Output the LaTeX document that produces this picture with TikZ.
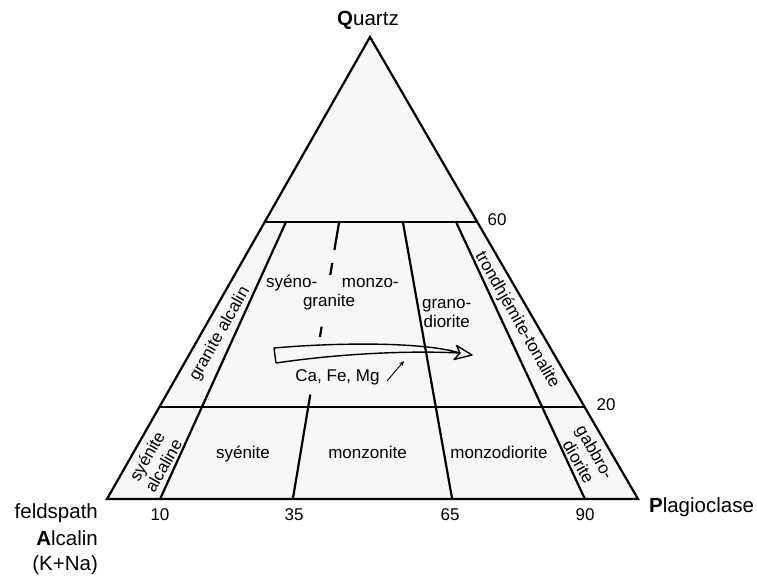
\documentclass[tikz,border=0pt]{standalone}
\usepackage{fontspec}
\setmainfont{Liberation Sans}
\usetikzlibrary{calc,arrows.meta}
\begin{document}
\begin{tikzpicture}[x=1pt,y=-1pt,line width=2.2pt,
  lbl/.style={font=\fontsize{17}{19}\selectfont, inner sep=0pt, anchor=base},
  rlbl/.style={font=\fontsize{17}{19}\selectfont, inner sep=0pt, align=center},
  big/.style={font=\fontsize{20.5}{24}\selectfont, inner sep=0pt},
  flow/.style={line width=1.4pt, line join=round}]
\useasboundingbox (0,0) rectangle (757,576);
% corners
\coordinate (A) at (107,499);
\coordinate (P) at (638,499);
\coordinate (Q) at (370,37);
\fill[black!3] (A) -- (P) -- (Q) -- cycle;
% base points and tops at Q=60
\coordinate (b10) at ($(A)!0.10!(P)$);
\coordinate (b35) at ($(A)!0.35!(P)$);
\coordinate (b65) at ($(A)!0.65!(P)$);
\coordinate (b90) at ($(A)!0.90!(P)$);
\coordinate (t10) at ($(b10)!0.6!(Q)$);
\coordinate (t35) at ($(b35)!0.6!(Q)$);
\coordinate (t65) at ($(b65)!0.6!(Q)$);
\coordinate (t90) at ($(b90)!0.6!(Q)$);
\coordinate (L60) at ($(A)!0.6!(Q)$);
\coordinate (R60) at ($(P)!0.6!(Q)$);
\coordinate (L20) at ($(A)!0.2!(Q)$);
\coordinate (R20) at ($(P)!0.2!(Q)$);
% 35 line pieces
\coordinate (s1) at ($(b35)!0.226!(Q)$);
\coordinate (s2) at ($(b35)!0.351!(Q)$);
\coordinate (s3) at ($(b35)!0.373!(Q)$);
\coordinate (s4) at ($(b35)!0.485!(Q)$);
\coordinate (s5) at ($(b35)!0.511!(Q)$);
\coordinate (s6) at ($(b35)!0.539!(Q)$);
\draw (L60) -- (R60);
\draw (L20) -- (R20);
\draw (b10) -- (t10);
\draw (b65) -- (t65);
\draw (b90) -- (t90);
\draw (b35) -- (s1) (s2) -- (s3) (s4) -- (s5) (s6) -- (t35);
\draw[line join=miter] (A) -- (P) -- (Q) -- cycle;
% big hollow arrow
\coordinate (w1) at (274,348);
\coordinate (w2) at (276,363);
\coordinate (wt) at (460,353);
\coordinate (h1) at (456.5,345.5);
\coordinate (h2) at (472,355);
\coordinate (h3) at (454,359.5);
\draw[flow] (w2) -- (w1) .. controls (330,343) and (420,341) .. (wt)
  .. controls (400,350) and (330,355) .. (w2);
\draw[flow] (wt) -- (h1) -- (h2) -- (h3) -- cycle;
% small arrow
\coordinate (k1) at (387,381);
\coordinate (k2) at (404,361);
\draw[-{Stealth[length=5pt,width=4pt]}, line width=0.9pt] (k1) -- (k2);
% outer labels
\node[big, anchor=base] (quartz) at (368,25) {\textbf{Q}uartz};
\node[big, anchor=base west] (plag) at (648,512) {\textbf{P}lagioclase};
\node[big, anchor=base east] (feld1) at (99,518) {feldspath};
\node[big, anchor=base east] (feld2) at (99,545) {\textbf{A}lcalin};
\node[big, anchor=base east] (feld3) at (99,570) {(K+Na)};
% numbers
\node[lbl] (n10) at (160,520) {10};
\node[lbl] (n35) at (294,520) {35};
\node[lbl] (n65) at (450,520) {65};
\node[lbl] (n90) at (585,520) {90};
\node[lbl] (n60) at (497,225) {60};
\node[lbl] (n20) at (606,410) {20};
% field labels
\node[lbl] (syeno) at (291.7,287) {syéno-};
\node[lbl] (monzo) at (370.3,287) {monzo-};
\node[lbl] (granite) at (329,306.5) {granite};
\node[lbl] (grano) at (446.7,308.5) {grano-};
\node[lbl] (diorite) at (446.7,327.5) {diorite};
\node[lbl] (cafemg) at (337.5,381) {Ca, Fe, Mg};
\node[lbl] (syenite) at (243,458) {syénite};
\node[lbl] (monzonite) at (367.5,458) {monzonite};
\node[lbl] (monzodiorite) at (499,458) {monzodiorite};
\node[rlbl, rotate=60.35] (ganite) at (220,334) {granite alcalin};
\node[rlbl, rotate=60.35] (syal) at (155,461) {syénite\\alcaline};
\node[rlbl, rotate=-60.35] (trond) at (517,320) {trondhjémite-tonalite};
\node[rlbl, rotate=-60.35] (gabbro) at (587,457) {gabbro-\\diorite};
\end{tikzpicture}
\end{document}
